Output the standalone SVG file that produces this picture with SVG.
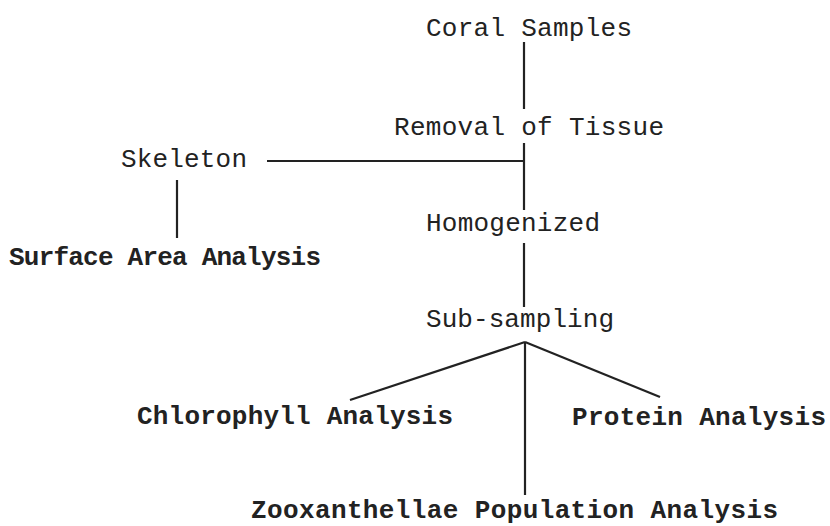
<svg xmlns="http://www.w3.org/2000/svg" width="830" height="526" viewBox="0 0 830 526">
<style>
.t{font-family:"Liberation Mono","DejaVu Sans Mono",monospace;font-size:26px;fill:#222}
.b{font-weight:bold}
.c{stroke:#222;stroke-width:2.2;fill:none}
</style>
<rect width="830" height="526" fill="#fff"/>
<g id="coral"><text class="t" x="426" y="36" textLength="206">Coral Samples</text></g>
<g id="removal"><text class="t" x="394" y="135" textLength="270">Removal of Tissue</text></g>
<g id="skeleton"><text class="t" x="121" y="167" textLength="126">Skeleton</text></g>
<g id="homog"><text class="t" x="426" y="231" textLength="174">Homogenized</text></g>
<g id="surface"><text class="t b" x="9" y="265" textLength="312">Surface Area Analysis</text></g>
<g id="sub"><text class="t" x="426" y="327" textLength="188">Sub-sampling</text></g>
<g id="chloro"><text class="t b" x="137" y="424" textLength="316">Chlorophyll Analysis</text></g>
<g id="protein"><text class="t b" x="572" y="425" textLength="254">Protein Analysis</text></g>
<g id="zoox"><text class="t b" x="251" y="518" textLength="527">Zooxanthellae Population Analysis</text></g>
<g id="connectors" class="c">
<line x1="524" y1="42" x2="524" y2="109"/>
<line x1="524" y1="143" x2="524" y2="210"/>
<line x1="267" y1="161" x2="524" y2="161"/>
<line x1="177" y1="180" x2="177" y2="238"/>
<line x1="524" y1="243" x2="524" y2="307"/>
<line x1="525" y1="342" x2="525" y2="495"/>
<line x1="525" y1="342" x2="350" y2="400"/>
<line x1="525" y1="342" x2="660" y2="397"/>
</g>
</svg>
